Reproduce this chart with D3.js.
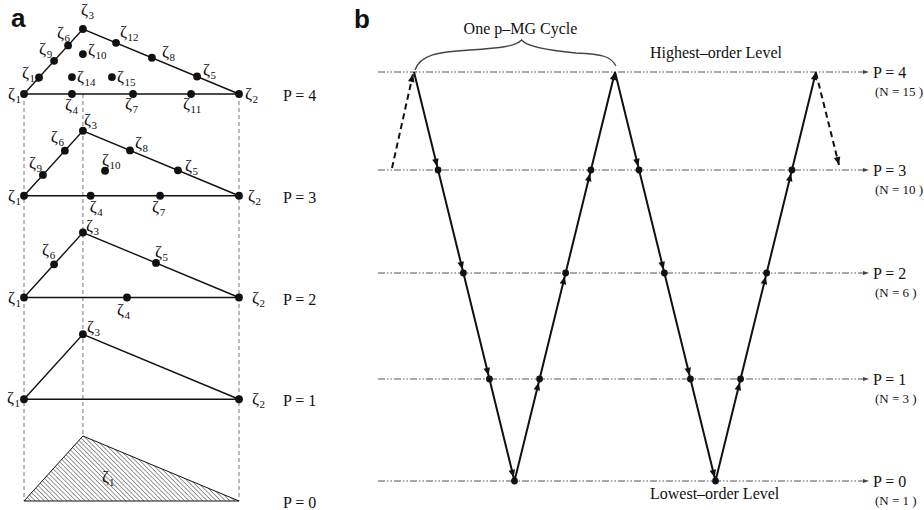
<!DOCTYPE html>
<html><head><meta charset="utf-8">
<script src="https://cdn.jsdelivr.net/npm/d3@7"></script>
<style>
html,body{margin:0;padding:0;background:#fff;}
svg{display:block;}
text{font-family:"Liberation Serif","Times New Roman",serif;fill:#111;}
</style></head><body>
<svg id="fig" width="924" height="510"></svg>
<script>
// ---------- Panel a: hierarchical nodal sets on the reference triangle ----------
// u runs along the base (ζ1 = 0, ζ2 = 1); v runs from the base (0) up to ζ3 (1)
const orders = [0, 1, 2, 3, 4];
const nodesP1 = [
  {id: 1, u: 0, v: 0}, {id: 2, u: 1, v: 0}, {id: 3, u: 0.274, v: 1}
];
const nodesP2 = [
  {id: 1, u: 0, v: 0}, {id: 2, u: 1, v: 0}, {id: 3, u: 0.274, v: 1},
  {id: 4, u: 0.479, v: 0}, {id: 5, u: 0.614, v: 0.532}, {id: 6, u: 0.14, v: 0.511}
];
const nodesP3 = [
  {id: 1, u: 0, v: 0}, {id: 2, u: 1, v: 0}, {id: 3, u: 0.274, v: 1},
  {id: 4, u: 0.31, v: 0}, {id: 5, u: 0.716, v: 0.391}, {id: 6, u: 0.19, v: 0.693},
  {id: 7, u: 0.633, v: 0}, {id: 8, u: 0.493, v: 0.698}, {id: 9, u: 0.088, v: 0.321},
  {id: 10, u: 0.377, v: 0.385}
];
const nodesP4 = [
  {id: 1, u: 0, v: 0}, {id: 2, u: 1, v: 0}, {id: 3, u: 0.274, v: 1},
  {id: 4, u: 0.223, v: 0}, {id: 5, u: 0.805, v: 0.269}, {id: 6, u: 0.205, v: 0.748},
  {id: 7, u: 0.507, v: 0}, {id: 8, u: 0.595, v: 0.558}, {id: 9, u: 0.14, v: 0.511},
  {id: 10, u: 0.274, v: 0.615}, {id: 11, u: 0.777, v: 0}, {id: 12, u: 0.428, v: 0.788},
  {id: 13, u: 0.07, v: 0.255}, {id: 14, u: 0.223, v: 0.26}, {id: 15, u: 0.409, v: 0.26}
];
const nodesByOrder = {1: nodesP1, 2: nodesP2, 3: nodesP3, 4: nodesP4};
const elementLabel = {u: 0.363, v: 0.3};   // label of the single P = 0 element

// ---------- Panel b: one p-multigrid cycle ----------
const levels = [0, 1, 2, 3, 4];
const nodeCounts = [1, 3, 6, 10, 15];
const cycleLevels = [4, 3, 2, 1, 0, 1, 2, 3, 4, 3, 2, 1, 0, 1, 2, 3, 4];

// ---------- layout ----------
const svg = d3.select("#fig");
const ink = "#111";

// label offsets (start of ζ, baseline) relative to each node, per order
const labelOffset = {
  1: {1: [-17, 4], 2: [13, 5], 3: [4, -2]},
  2: {1: [-16, 5], 2: [13, 5], 3: [3, -2], 4: [-10, 17], 5: [-1, -6], 6: [-12, -9]},
  3: {1: [-16, 5], 2: [9, 5], 3: [1, -6], 4: [-1, 16], 5: [7, 1], 6: [-14, -9],
      7: [-8, 16], 8: [5, -2], 9: [-14, -7], 10: [-3, -6]},
  4: {1: [-16, 5], 2: [6, 5], 3: [-2, -14], 4: [-7, 16], 5: [6, -2], 6: [-11, -7],
      7: [-8, 15], 8: [10, -1], 9: [-15, -7], 10: [5, 1], 11: [-8, 15], 12: [4, -6],
      13: [-17, 1], 14: [5, 5], 15: [5, 5]}
};

const uX = d3.scaleLinear().domain([0, 1]).range([24, 239]);
const baseY = d3.scaleLinear().domain([0, 4]).range([501, 94]);
const vDy = d3.scaleLinear().domain([0, 1]).range([0, -65]);

const gA = svg.append("g");

// hatch pattern for the P = 0 element
const defs = svg.append("defs");
defs.append("pattern")
  .attr("id", "hatch").attr("patternUnits", "userSpaceOnUse")
  .attr("width", 3.2).attr("height", 3.2)
  .attr("patternTransform", "rotate(-45)")
  .append("line").attr("x1", 0).attr("y1", 0).attr("x2", 0).attr("y2", 3.2)
  .attr("stroke", "#333").attr("stroke-width", 1);

// dashed guides below the top element
const apexU = nodesP1[2].u;
gA.selectAll("line.guide")
  .data([{u: 0, end: 0}, {u: apexU, end: 1}, {u: 1, end: 0}])
  .join("line").attr("class", "guide")
  .attr("x1", d => uX(d.u)).attr("x2", d => uX(d.u))
  .attr("y1", baseY(4))
  .attr("y2", d => baseY(0) + vDy(d.end))
  .attr("stroke", "#777").attr("stroke-width", 1).attr("stroke-dasharray", "4,3");

const triPts = p => [[uX(0), baseY(p)], [uX(apexU), baseY(p) + vDy(1)], [uX(1), baseY(p)]];

const zetaSize = 17, subSize = 11;

// P = 0 : hatched element
gA.append("path")
  .attr("d", d3.line()(triPts(0)) + "Z")
  .attr("fill", "url(#hatch)").attr("stroke", ink).attr("stroke-width", 1);
const zl = gA.append("text")
  .attr("x", uX(elementLabel.u)).attr("y", baseY(0) + vDy(elementLabel.v))
  .attr("font-size", zetaSize).text("ζ");
zl.append("tspan").attr("dy", 4).attr("font-size", subSize).text("1");

// P >= 1 : element edges, nodes and labels
orders.filter(p => p > 0).forEach(p => {
  gA.append("path")
    .attr("d", d3.line()(triPts(p)) + "Z")
    .attr("fill", "none").attr("stroke", ink).attr("stroke-width", 1.4);
  const nodes = nodesByOrder[p];
  const px = d => uX(d.u), py = d => baseY(p) + vDy(d.v);
  gA.selectAll(null).data(nodes).join("circle")
    .attr("cx", px).attr("cy", py).attr("r", 3.9).attr("fill", ink);
  const t = gA.selectAll(null).data(nodes).join("text")
    .attr("x", d => px(d) + labelOffset[p][d.id][0])
    .attr("y", d => py(d) + labelOffset[p][d.id][1])
    .attr("font-size", zetaSize).text("ζ");
  t.append("tspan").attr("dx", 0.5).attr("dy", 4).attr("font-size", subSize).text(d => d.id);
});

// order labels
gA.selectAll("text.order").data(orders).join("text").attr("class", "order")
  .attr("x", 283).attr("y", d => baseY(d) + 7)
  .attr("font-size", 16).text(d => "P = " + d);

// panel letters
svg.append("text").attr("x", 11).attr("y", 27)
  .style("font-family", "'Liberation Sans',Arial,sans-serif")
  .attr("font-weight", "bold").attr("font-size", 26).text("a");
svg.append("text").attr("x", 354).attr("y", 28)
  .style("font-family", "'Liberation Sans',Arial,sans-serif")
  .attr("font-weight", "bold").attr("font-size", 26).text("b");

// ---------- Panel b drawing ----------
const gB = svg.append("g");
const levelY = d3.scaleLinear().domain(levels).range([481, 379, 273, 170, 72]);
const turnX = d3.scaleLinear().domain([0, 16]).range([414, 816]);
const lineX0 = 378, lineX1 = 869;

// level lines with small arrowheads
gB.selectAll("line.level").data(levels).join("line").attr("class", "level")
  .attr("x1", lineX0).attr("x2", lineX1 - 5)
  .attr("y1", d => levelY(d)).attr("y2", d => levelY(d))
  .attr("stroke", "#555").attr("stroke-width", 1)
  .attr("stroke-dasharray", "7,2,1.5,2,1.5,2");
gB.selectAll("path.lvhead").data(levels).join("path").attr("class", "lvhead")
  .attr("d", d => `M${lineX1},${levelY(d)}L${lineX1 - 6},${levelY(d) - 2}L${lineX1 - 6},${levelY(d) + 2}Z`)
  .attr("fill", "#444");

gB.selectAll("text.plabel").data(levels).join("text").attr("class", "plabel")
  .attr("x", 873).attr("y", d => levelY(d) + 6).attr("font-size", 16)
  .text(d => "P = " + d);
gB.selectAll("text.nlabel").data(levels).join("text").attr("class", "nlabel")
  .attr("x", 875).attr("y", d => levelY(d) + 24).attr("font-size", 13)
  .text((d, i) => "(N = " + nodeCounts[i] + " )");

// cycle vertices: turning points every 4 steps, intermediate points on straight legs
const turns = d3.range(0, cycleLevels.length, 4).map(i => ({x: turnX(i), y: levelY(cycleLevels[i])}));
const pts = cycleLevels.map((lv, i) => {
  const k = Math.min(Math.floor(i / 4), turns.length - 2);
  const a = turns[k], b = turns[k + 1];
  const y = levelY(lv);
  const f = (y - a.y) / (b.y - a.y);
  return {x: a.x + (b.x - a.x) * f, y, lv};
});

gB.append("path")
  .attr("d", d3.line().x(d => d.x).y(d => d.y)(pts))
  .attr("fill", "none").attr("stroke", ink).attr("stroke-width", 2)
  .attr("stroke-linejoin", "miter");

const dotR = 3.4;
function arrowHead(ax, ay, bx, by, back, len = 8, hw = 3.3) {
  const L = Math.hypot(bx - ax, by - ay), dx = (bx - ax) / L, dy = (by - ay) / L;
  const tx = bx - dx * back, ty = by - dy * back;
  const cx = tx - dx * len, cy = ty - dy * len;
  return `M${tx},${ty}L${cx - dy * hw},${cy + dx * hw}L${cx + dy * hw},${cy - dx * hw}Z`;
}
const legs = d3.range(1, pts.length).map(i => ({a: pts[i - 1], b: pts[i]}));
gB.selectAll("path.head").data(legs).join("path").attr("class", "head")
  .attr("d", d => arrowHead(d.a.x, d.a.y, d.b.x, d.b.y, d.b.lv === 4 ? 0 : dotR))
  .attr("fill", ink);
gB.selectAll("circle").data(pts.filter(d => d.lv !== 4)).join("circle")
  .attr("cx", d => d.x).attr("cy", d => d.y).attr("r", dotR).attr("fill", ink);

// dashed lead-in and lead-out
const first = pts[0], last = pts[pts.length - 1];
const leads = [
  {a: {x: first.x - 22, y: levelY(3) - 2}, b: {x: first.x - 1, y: first.y + 2}},
  {a: {x: last.x, y: last.y + 1}, b: {x: last.x + 23, y: levelY(3) - 5}}
];
gB.selectAll("line.lead").data(leads).join("line").attr("class", "lead")
  .attr("x1", d => d.a.x).attr("y1", d => d.a.y)
  .attr("x2", d => d.b.x).attr("y2", d => d.b.y)
  .attr("stroke", ink).attr("stroke-width", 2).attr("stroke-dasharray", "6,4");
gB.selectAll("path.leadhead").data(leads).join("path").attr("class", "leadhead")
  .attr("d", d => arrowHead(d.a.x, d.a.y, d.b.x, d.b.y, 0))
  .attr("fill", ink);

// brace over one cycle
const bL = turns[0].x + 1, bR = turns[2].x + 1, bM = (bL + bR) / 2 + 6;
const yTop = levelY(4);
const brace = d3.path();
brace.moveTo(bL, yTop - 2);
brace.bezierCurveTo(bL + 5, yTop - 17, bL + 22, yTop - 20, bL + 55, yTop - 22);
brace.bezierCurveTo(bM - 20, yTop - 24, bM - 5, yTop - 26, bM, yTop - 32);
brace.bezierCurveTo(bM + 5, yTop - 26, bM + 22, yTop - 22, bR - 40, yTop - 19);
brace.bezierCurveTo(bR - 12, yTop - 18, bR - 5, yTop - 15, bR, yTop - 6);
gB.append("path").attr("d", brace.toString())
  .attr("fill", "none").attr("stroke", "#444").attr("stroke-width", 1.3);

gB.append("text").attr("x", bM - 1).attr("y", 34).attr("text-anchor", "middle")
  .attr("font-size", 16).text("One p\u2013MG Cycle");
gB.append("text").attr("x", 650).attr("y", 58)
  .attr("font-size", 16).text("Highest\u2013order Level");
gB.append("text").attr("x", 650).attr("y", 499)
  .attr("font-size", 16).text("Lowest\u2013order Level");
</script>
</body></html>
